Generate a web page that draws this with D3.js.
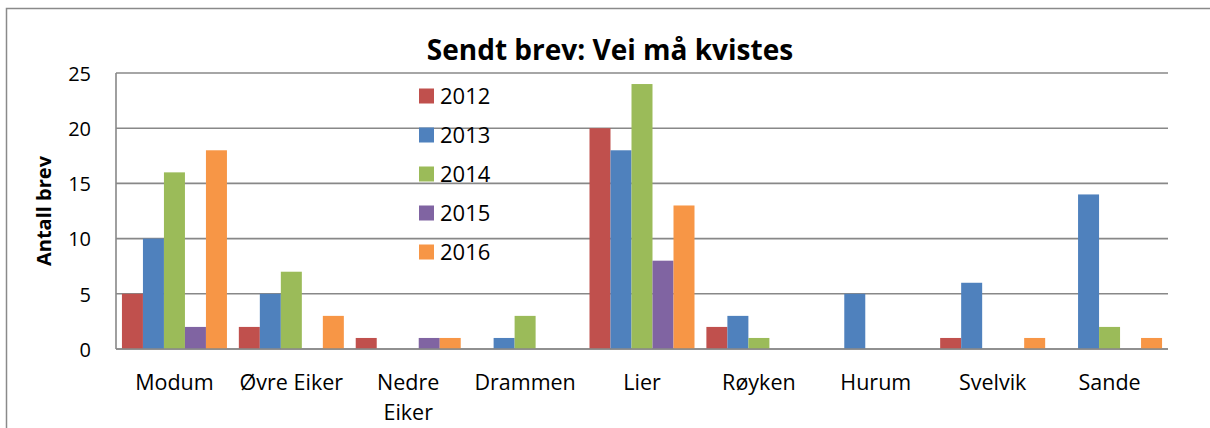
<!DOCTYPE html>
<html><head><meta charset="utf-8">
<script src="https://cdn.jsdelivr.net/npm/d3@7"></script>
<style>body{margin:0;background:#fff}svg{display:block}text{font-family:"Open Sans","Noto Sans",sans-serif}</style>
</head><body><svg id="c" width="1210" height="428"></svg>
<script>
const title = "Sendt brev: Vei må kvistes";
const yLabel = "Antall brev";
const categories = ["Modum","Øvre Eiker","Nedre Eiker","Drammen","Lier","Røyken","Hurum","Svelvik","Sande"];
const seriesNames = ["2012","2013","2014","2015","2016"];
const v2012 = [5,2,1,0,20,2,0,1,0];
const v2013 = [10,5,0,1,18,3,5,6,14];
const v2014 = [16,7,0,3,24,1,0,0,2];
const v2015 = [2,0,1,0,8,0,0,0,0];
const v2016 = [18,3,1,0,13,0,0,1,1];
const yTicks = [0,5,10,15,20,25];
const colors = ["#C0504D","#4F81BD","#9BBB59","#8064A2","#F79646"];
const seriesValues = [v2012,v2013,v2014,v2015,v2016];

const svg = d3.select("#c");
svg.append("rect").attr("x",6.5).attr("y",8.5).attr("width",1220).attr("height",440)
  .attr("fill","#fff").attr("stroke","#8a8a8a").attr("stroke-width",1.5);

const L=116, R=1168, T=73, B=349;
const x = d3.scaleBand().domain(categories).range([L,R]).padding(0);
const x1 = d3.scaleBand().domain(seriesNames).range([0,x.bandwidth()]).paddingInner(0).paddingOuter(0.283);
const y = d3.scaleLinear().domain([0,25]).range([B,T]);

// gridlines
svg.append("g").selectAll("line").data(yTicks).join("line")
  .attr("x1",L).attr("x2",R).attr("y1",d=>y(d)).attr("y2",d=>y(d))
  .attr("stroke","#888").attr("stroke-width",1.6);
// y axis line
svg.append("line").attr("x1",L).attr("x2",L).attr("y1",T).attr("y2",B).attr("stroke","#888").attr("stroke-width",1.6);

// bars
const data = [];
categories.forEach((c,i)=>seriesNames.forEach((s,j)=>data.push({c,s,v:seriesValues[j][i],j})));
svg.append("g").selectAll("rect").data(data.filter(d=>d.v>0)).join("rect")
  .attr("x",d=>x(d.c)+x1(d.s)).attr("width",x1.bandwidth())
  .attr("y",d=>y(d.v)).attr("height",d=>y(0)-y(d.v))
  .attr("fill",d=>colors[d.j]);

// baseline on top
svg.append("line").attr("x1",L).attr("x2",R).attr("y1",B).attr("y2",B).attr("stroke","#888").attr("stroke-width",1.6);

// y axis labels
const yAxis = d3.axisLeft(y).tickValues(yTicks).tickSize(0).tickPadding(25);
const ya = svg.append("g").attr("transform",`translate(${L},0)`).call(yAxis);
ya.select(".domain").remove();
ya.selectAll("text").attr("font-size",20).attr("fill","#000").attr("font-family","'Open Sans','Noto Sans',sans-serif").attr("dy","0.36em");

// x labels
const xg = svg.append("g");
categories.forEach(c=>{
  const t = xg.append("text").attr("x",x(c)+x.bandwidth()/2).attr("y",390)
    .attr("text-anchor","middle").attr("font-size",21.5).attr("fill","#000").text(c);
  if (t.node().getComputedTextLength() > x.bandwidth() - 6 && c.includes(" ")) {
    const parts = c.split(" ");
    t.text(null);
    parts.forEach((p,k)=>t.append("tspan").attr("x",x(c)+x.bandwidth()/2).attr("dy",k?30:0).text(p));
  }
});

// title
svg.append("text").attr("x",610).attr("y",60).attr("text-anchor","middle")
  .attr("font-size",28).attr("font-weight","bold").text(title);
// y label
svg.append("text").attr("transform","translate(51,211) rotate(-90)").attr("text-anchor","middle")
  .attr("font-size",20).attr("font-weight","bold").text(yLabel);

// legend
const lg = svg.append("g");
seriesNames.forEach((s,i)=>{
  const cy = 96 + i*39;
  lg.append("rect").attr("x",419).attr("y",cy-7.5).attr("width",15).attr("height",15).attr("fill",colors[i]);
  lg.append("text").attr("x",440).attr("y",cy+8).attr("font-size",22).text(s);
});
</script></body></html>
